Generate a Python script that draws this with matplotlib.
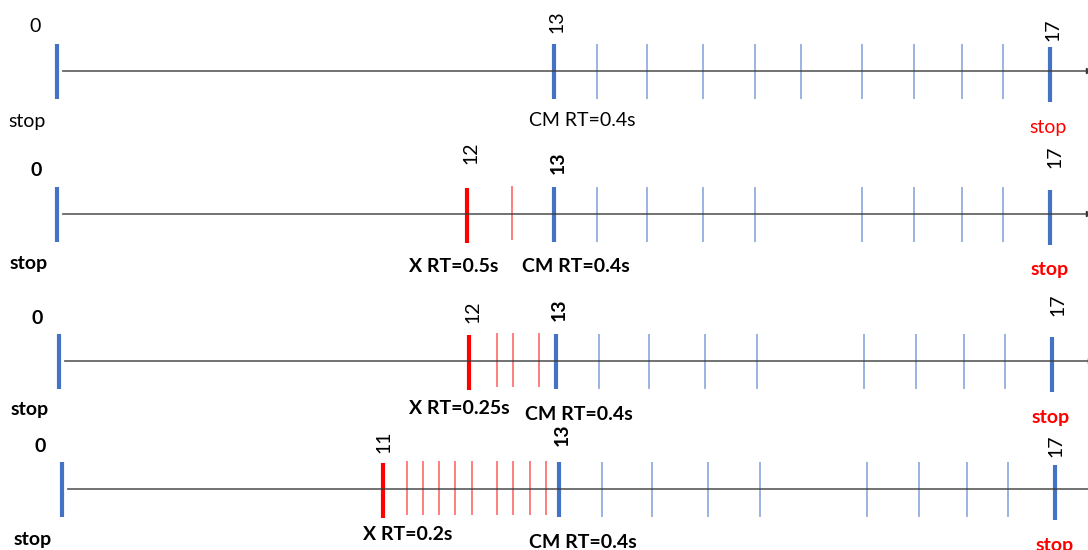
import numpy as np
import matplotlib.pyplot as plt

plt.rcParams['font.family'] = ['Lato', 'DejaVu Sans']

# ---- data (seconds) ----
stop_times = [0, 17]
cm_start = 13
cm_ticks_full = [13.35, 13.75, 14.20, 14.62, 14.99, 15.48, 15.90, 16.29, 16.62]
cm_ticks_gap = [13.35, 13.75, 14.20, 14.62, 15.48, 15.90, 16.29, 16.62]
cm_ticks = [cm_ticks_full, cm_ticks_gap, cm_ticks_gap, cm_ticks_gap]
x_start = [None, 12, 12, 11]
x_ticks = [[],
           [12.52],
           [12.32, 12.51, 12.80],
           [11.27, 11.45, 11.63, 11.81, 12.00, 12.29, 12.47, 12.67, 12.85]]
cm_label = 'CM RT=0.4s'
x_labels = [None, 'X RT=0.5s', 'X RT=0.25s', 'X RT=0.2s']
start_label = '0'
stop_label = 'stop'

# ---- layout ----
BLUE = '#4472C4'
BLUE_THIN = '#7f9fdb'
RED = '#FF0000'
RED_THIN = '#ff5a5a'
W, H = 1088, 550

# hand-drawn time line: seconds -> pixel column
anchor_t = [-5, 0, 11, 12, 13, 17, 20]
anchor_px = [-89, 57, 378, 467, 554, 1050, 1422]


def fwd(t):
    return np.interp(t, anchor_t, anchor_px)


def inv(p):
    return np.interp(p, anchor_px, anchor_t)


row_y = [71, 214, 361, 489]
row_dx = [0, 0, 2, 5]
bold = ['normal', 'bold', 'bold', 'bold']

# label placement per row: (pixel y, pixel x offset from its time)
zero_pos = [(27, -22), (170, -21), (318, -22), (446, -22)]
stop0_pos = [(121, -30), (263, -28), (410, -29), (539, -29)]
n13_pos = [(22, 3), (163, 4), (310, 3), (435, 3)]
n17_pos = [(30, 3), (157, 5), (305, 6), (446, 1)]
cm_pos = [(121, 28), (267, 22), (415, 23), (543, 24)]
stop17_pos = [(127, -2), (269, 0), (417, -1), (545, 0)]
xn_pos = [None, (153, 4), (312, 4), (442, 1)]
xl_pos = [None, (267, -13), (408, -10), (534, 25)]

fig = plt.figure(figsize=(W / 100, H / 100), dpi=100)
fs = 14

for i in range(4):
    dx = row_dx[i]
    ax = fig.add_axes([dx / W, 0, 1, 1])
    ax.set_xscale('function', functions=(fwd, inv))
    ax.set_xlim(inv(0), inv(W))
    ax.set_ylim(H, 0)
    ax.axis('off')
    y = row_y[i]

    # axis line with arrow
    ax.annotate('', xy=(inv(1093), y), xytext=(0, y), annotation_clip=False,
                arrowprops=dict(arrowstyle='-|>', lw=1.0, color='#3a3a3a',
                                shrinkA=4, shrinkB=0, mutation_scale=9))

    # thin ticks
    ax.vlines(cm_ticks[i], y - 27, y + 28, color=BLUE_THIN, lw=1.1)
    if x_ticks[i]:
        ax.vlines(x_ticks[i], y - 28, y + 26, color=RED_THIN, lw=1.1)

    # thick ticks
    ax.vlines([stop_times[0], cm_start], y - 27, y + 28, color=BLUE, lw=3)
    ax.vlines([stop_times[1]], y - 24, y + 31, color=BLUE, lw=3)
    if x_start[i] is not None:
        ax.vlines([x_start[i]], y - 26, y + 29, color=RED, lw=3)

    def lab(text, t, pos, rot=0, weight='normal', color='black'):
        ly, ox = pos
        ax.annotate(text, xy=(t, ly), xytext=(ox, 0), textcoords='offset pixels',
                    ha='center', va='center', rotation=rot, fontsize=fs,
                    fontweight=weight, color=color, annotation_clip=False)

    lab(start_label, stop_times[0], zero_pos[i], weight=bold[i])
    lab(stop_label, stop_times[0], stop0_pos[i], weight=bold[i])
    lab(str(cm_start), cm_start, n13_pos[i], rot=90, weight=bold[i])
    lab(str(stop_times[1]), stop_times[1], n17_pos[i], rot=90)
    lab(cm_label, cm_start, cm_pos[i], weight=bold[i])
    lab(stop_label, stop_times[1], stop17_pos[i], weight=bold[i], color=RED)
    if x_start[i] is not None:
        lab(str(x_start[i]), x_start[i], xn_pos[i], rot=90)
        lab(x_labels[i], x_start[i], xl_pos[i], weight='bold')

fig.savefig('out.png', dpi=100)
